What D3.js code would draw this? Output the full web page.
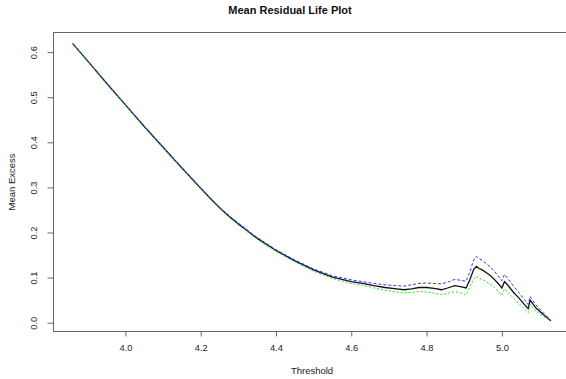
<!DOCTYPE html>
<html>
<head>
<meta charset="utf-8">
<script src="https://cdn.jsdelivr.net/npm/d3@7"></script>
<style>
  body { margin: 0; background: #fff; }
  svg { font-family: "Liberation Sans", Arial, sans-serif; }
  .tick text { fill: #222; font-size: 9.3px; }
  .tick line { stroke: #666; }
  .domain { display: none; }
</style>
</head>
<body>
<div id="chart"></div>
<script>
// threshold values (x) and mean residual life with confidence bounds
var threshold = [3.86, 3.90, 3.95, 4.00, 4.05, 4.10, 4.15, 4.20, 4.225, 4.25, 4.275, 4.30, 4.35, 4.40, 4.45, 4.50, 4.55,
  4.60, 4.63, 4.66, 4.69, 4.72, 4.74, 4.76, 4.78, 4.80, 4.82, 4.84, 4.86, 4.875, 4.89, 4.905,
  4.915, 4.925, 4.932, 4.94, 4.95, 4.96, 4.97, 4.98, 4.99, 5.00, 5.007, 5.015, 5.03, 5.045,
  5.06, 5.07, 5.075, 5.09, 5.11, 5.13];
var meanExcess = [0.619, 0.580, 0.531, 0.483, 0.435, 0.389, 0.343, 0.298, 0.276, 0.255, 0.236, 0.219, 0.187, 0.160, 0.137, 0.117, 0.101,
  0.091, 0.087, 0.082, 0.078, 0.075, 0.073, 0.075, 0.078, 0.078, 0.076, 0.073, 0.078, 0.082, 0.080, 0.077,
  0.095, 0.118, 0.125, 0.120, 0.116, 0.110, 0.104, 0.096, 0.087, 0.077, 0.091, 0.084, 0.068, 0.055,
  0.040, 0.031, 0.050, 0.033, 0.018, 0.004];
var upper = [0.620, 0.581, 0.532, 0.484, 0.436, 0.390, 0.344, 0.299, 0.277, 0.256, 0.238, 0.221, 0.189, 0.162, 0.139, 0.119, 0.104,
  0.095, 0.091, 0.087, 0.084, 0.082, 0.081, 0.084, 0.087, 0.088, 0.087, 0.086, 0.091, 0.096, 0.094, 0.092,
  0.112, 0.139, 0.147, 0.142, 0.137, 0.130, 0.123, 0.114, 0.104, 0.093, 0.107, 0.099, 0.082, 0.067,
  0.051, 0.040, 0.058, 0.040, 0.022, 0.005];
var lower = [0.618, 0.579, 0.530, 0.482, 0.434, 0.388, 0.342, 0.297, 0.275, 0.254, 0.234, 0.217, 0.185, 0.158, 0.135, 0.114, 0.098,
  0.087, 0.083, 0.077, 0.072, 0.068, 0.066, 0.067, 0.069, 0.068, 0.065, 0.062, 0.066, 0.069, 0.066, 0.062,
  0.079, 0.097, 0.103, 0.098, 0.095, 0.090, 0.085, 0.078, 0.070, 0.061, 0.075, 0.069, 0.055, 0.043,
  0.030, 0.022, 0.041, 0.026, 0.014, 0.003];

var xTicks = [4.0, 4.2, 4.4, 4.6, 4.8, 5.0];
var yTicks = [0.0, 0.1, 0.2, 0.3, 0.4, 0.5, 0.6];

var width = 566, height = 379;
var margin = { top: 32.5, right: -4, bottom: 47.5, left: 53.5 };

var svg = d3.select("#chart").append("svg")
  .attr("width", width)
  .attr("height", height);

var x = d3.scaleLinear()
  .domain([3.809, 5.181])
  .range([margin.left, width - margin.right]);

var y = d3.scaleLinear()
  .domain([-0.0196, 0.6436])
  .range([height - margin.bottom, margin.top]);

// title
svg.append("text")
  .attr("x", 290)
  .attr("y", 14)
  .attr("text-anchor", "middle")
  .style("font-size", "11px")
  .style("font-weight", "bold")
  .style("fill", "#111")
  .text("Mean Residual Life Plot");

// axes
svg.append("g")
  .attr("transform", "translate(0," + (height - margin.bottom) + ")")
  .call(d3.axisBottom(x).tickValues(xTicks).tickFormat(d3.format(".1f")).tickSize(5).tickPadding(8));

var yAxis = svg.append("g")
  .attr("transform", "translate(" + margin.left + ",0)")
  .call(d3.axisLeft(y).tickValues(yTicks).tickFormat(d3.format(".1f")).tickSize(6));

yAxis.selectAll(".tick text")
  .attr("x", null).attr("dy", null)
  .attr("text-anchor", "middle")
  .attr("transform", "translate(-20,0) rotate(-90)")
  .attr("y", 0).attr("dy", "0.35em");

// plot box
svg.append("rect")
  .attr("x", margin.left)
  .attr("y", margin.top)
  .attr("width", width - margin.right - margin.left)
  .attr("height", height - margin.bottom - margin.top)
  .attr("fill", "none")
  .attr("stroke", "#666")
  .attr("stroke-width", 1);

// axis titles
svg.append("text")
  .attr("x", 312)
  .attr("y", 374)
  .attr("text-anchor", "middle")
  .style("font-size", "9.5px")
  .style("fill", "#222")
  .text("Threshold");

svg.append("text")
  .attr("transform", "translate(15," + ((margin.top + height - margin.bottom) / 2) + ") rotate(-90)")
  .attr("text-anchor", "middle")
  .style("font-size", "9.5px")
  .style("fill", "#222")
  .text("Mean Excess");

function lineFor(values) {
  return d3.line()
    .x(function(d, i) { return x(threshold[i]); })
    .y(function(d) { return y(d); })(values);
}

svg.append("path")
  .attr("d", lineFor(meanExcess))
  .attr("fill", "none")
  .attr("stroke", "#111")
  .attr("stroke-width", 1.3);

svg.append("path")
  .attr("d", lineFor(lower))
  .attr("fill", "none")
  .attr("stroke", "#22e022")
  .attr("stroke-width", 1)
  .attr("stroke-dasharray", "2,2");

svg.append("path")
  .attr("d", lineFor(upper))
  .attr("fill", "none")
  .attr("stroke", "#3333ff")
  .attr("stroke-width", 1)
  .attr("stroke-dasharray", "3,2");
</script>
</body>
</html>
